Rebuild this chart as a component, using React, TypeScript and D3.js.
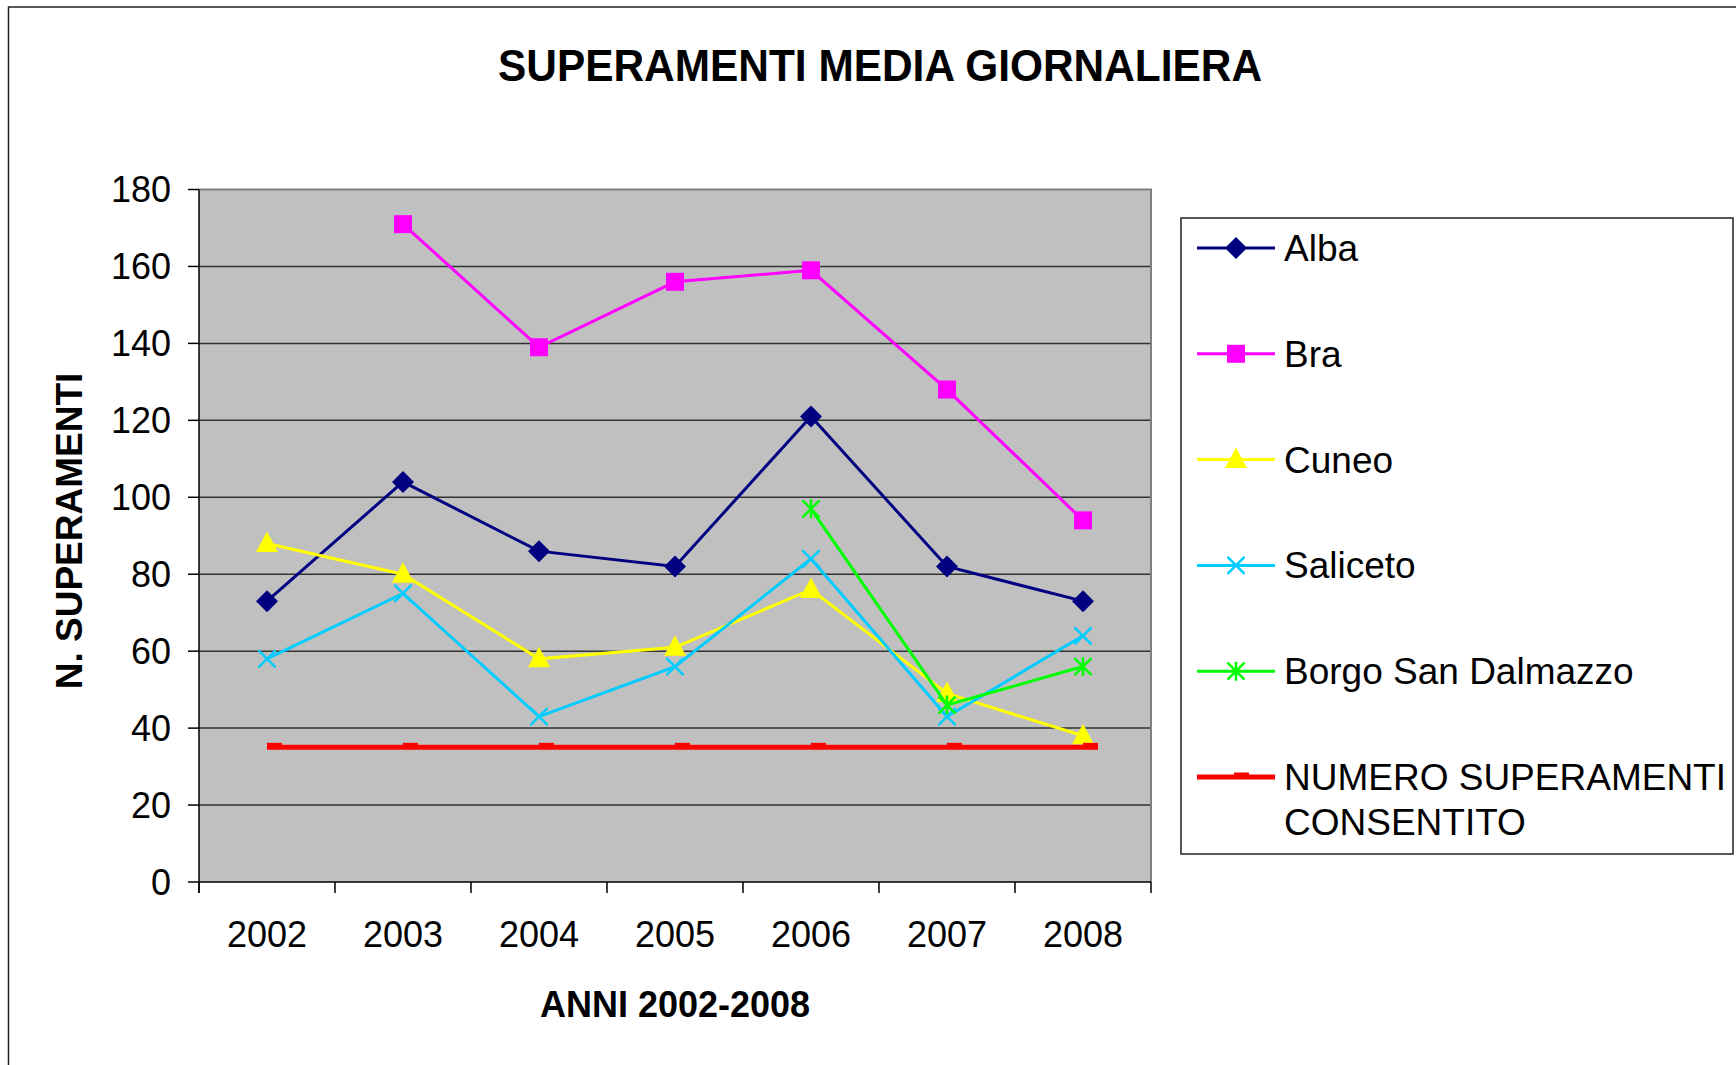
import * as d3 from "d3";

const years = ["2002", "2003", "2004", "2005", "2006", "2007", "2008"];
const alba = [73, 104, 86, 82, 121, 82, 73];
const bra: (number | null)[] = [null, 171, 139, 156, 159, 128, 94];
const cuneo = [88, 80, 58, 61, 76, 49, 38];
const saliceto = [58, 75, 43, 56, 84, 43, 64];
const borgo: (number | null)[] = [null, null, null, null, 97, 46, 56];
const limite = [35, 35, 35, 35, 35, 35, 35];
const yTicks = [0, 20, 40, 60, 80, 100, 120, 140, 160, 180];

type Marker = "diamond" | "square" | "triangle" | "x" | "star" | "dash";

const series: { name: string[]; values: (number | null)[]; color: string; marker: Marker; width: number }[] = [
  { name: ["Alba"], values: alba, color: "#000080", marker: "diamond", width: 3 },
  { name: ["Bra"], values: bra, color: "#FF00FF", marker: "square", width: 3 },
  { name: ["Cuneo"], values: cuneo, color: "#FFFF00", marker: "triangle", width: 3 },
  { name: ["Saliceto"], values: saliceto, color: "#00CCFF", marker: "x", width: 3 },
  { name: ["Borgo San Dalmazzo"], values: borgo, color: "#00FF00", marker: "star", width: 3 },
  { name: ["NUMERO SUPERAMENTI", "CONSENTITO"], values: limite, color: "#FF0000", marker: "dash", width: 5 },
];

const FONT = "'Liberation Sans', Arial, Helvetica, sans-serif";

function MarkerShape({ type, x, y, color }: { type: Marker; x: number; y: number; color: string }) {
  switch (type) {
    case "diamond":
      return <path d={`M${x},${y - 11}L${x + 11},${y}L${x},${y + 11}L${x - 11},${y}Z`} fill={color} />;
    case "square":
      return <rect x={x - 9} y={y - 9} width={18} height={18} fill={color} />;
    case "triangle":
      return <path d={`M${x},${y - 12}L${x + 11},${y + 8.5}L${x - 11},${y + 8.5}Z`} fill={color} />;
    case "x":
      return (
        <path
          d={`M${x - 8.5},${y - 8.5}L${x + 8.5},${y + 8.5}M${x - 8.5},${y + 8.5}L${x + 8.5},${y - 8.5}`}
          stroke={color}
          strokeWidth={2.5}
        />
      );
    case "star":
      return (
        <path
          d={`M${x - 8.5},${y - 8.5}L${x + 8.5},${y + 8.5}M${x - 8.5},${y + 8.5}L${x + 8.5},${y - 8.5}M${x},${y - 9.5}L${x},${y + 9.5}`}
          stroke={color}
          strokeWidth={2.5}
        />
      );
    case "dash":
      return <rect x={x} y={y - 4.5} width={15} height={6} fill={color} />;
  }
}

export default function App() {
  const W = 1736;
  const H = 1065;
  const plot = { left: 199, right: 1151, top: 189.5, bottom: 882 };

  const x = d3.scaleBand<string>().domain(years).range([plot.left, plot.right]).padding(0);
  const y = d3.scaleLinear().domain([0, 180]).range([plot.bottom, plot.top]);
  const cx = (yr: string) => (x(yr) as number) + x.bandwidth() / 2;

  const line = d3
    .line<number | null>()
    .defined((d) => d !== null)
    .x((_, i) => cx(years[i]))
    .y((d) => y(d as number));

  const legend = { x: 1181, y: 218, w: 552, h: 636 };
  const legendRowY = (i: number) => 248 + i * 105.8;

  return (
    <svg width={W} height={H} style={{ position: "absolute", left: 0, top: 0, background: "#fff" }} fontFamily={FONT}>
      {/* outer chart frame */}
      <rect x={8.5} y={7} width={W + 20} height={H + 20} fill="none" stroke="#222" strokeWidth={1.5} />

      {/* title */}
      <text
        x={880}
        y={81}
        textAnchor="middle"
        fontSize={45}
        fontWeight="bold"
        fill="#000"
        textLength={764}
        lengthAdjust="spacingAndGlyphs"
      >
        SUPERAMENTI MEDIA GIORNALIERA
      </text>

      {/* plot area */}
      <rect x={plot.left} y={plot.top} width={plot.right - plot.left} height={plot.bottom - plot.top} fill="#C0C0C0" />

      {/* gridlines */}
      {yTicks
        .filter((t) => t > 0 && t < 180)
        .map((t) => (
          <line key={t} x1={plot.left} x2={plot.right} y1={y(t)} y2={y(t)} stroke="#333" strokeWidth={1.5} />
        ))}

      {/* plot border top/right */}
      <path
        d={`M${plot.left},${plot.top}L${plot.right},${plot.top}L${plot.right},${plot.bottom}`}
        fill="none"
        stroke="#808080"
        strokeWidth={2}
      />

      {/* axes */}
      <line x1={plot.left} x2={plot.left} y1={plot.top} y2={plot.bottom + 11} stroke="#000" strokeWidth={1.5} />
      <line x1={plot.left} x2={plot.right} y1={plot.bottom} y2={plot.bottom} stroke="#000" strokeWidth={1.5} />
      {yTicks.map((t) => (
        <g key={t}>
          <line x1={plot.left - 11} x2={plot.left} y1={y(t)} y2={y(t)} stroke="#000" strokeWidth={1.5} />
          <text x={171} y={y(t)} dy="0.35em" textAnchor="end" fontSize={36} fill="#000">
            {t}
          </text>
        </g>
      ))}
      {[...years.map((yr) => x(yr) as number), plot.right].map((v, i) => (
        <line key={i} x1={v} x2={v} y1={plot.bottom} y2={plot.bottom + 11} stroke="#000" strokeWidth={1.5} />
      ))}
      {years.map((yr) => (
        <text key={yr} x={cx(yr)} y={947} textAnchor="middle" fontSize={36} fill="#000">
          {yr}
        </text>
      ))}

      {/* axis titles */}
      <text x={675} y={1017} textAnchor="middle" fontSize={36} fontWeight="bold" fill="#000">
        ANNI 2002-2008
      </text>
      <text
        transform={`translate(82,${531}) rotate(-90)`}
        textAnchor="middle"
        fontSize={37}
        fontWeight="bold"
        fill="#000"
      >
        N. SUPERAMENTI
      </text>

      {/* series */}
      {series.map((s) => (
        <g key={s.name[0]}>
          <path
            d={
              s.marker === "dash"
                ? `M${cx(years[0])},${y(s.values[0] as number)}L${cx(years[years.length - 1]) + 15},${y(
                    s.values[years.length - 1] as number
                  )}`
                : (line(s.values) as string)
            }
            fill="none"
            stroke={s.color}
            strokeWidth={s.width}
          />
          {s.values.map((v, i) =>
            v === null ? null : <MarkerShape key={i} type={s.marker} x={cx(years[i])} y={y(v)} color={s.color} />
          )}
        </g>
      ))}

      {/* legend */}
      <rect x={legend.x} y={legend.y} width={legend.w} height={legend.h} fill="#fff" stroke="#222" strokeWidth={1.5} />
      {series.map((s, i) => {
        const ly = legendRowY(i);
        return (
          <g key={s.name[0]}>
            <line x1={1197} x2={1275} y1={ly} y2={ly} stroke={s.color} strokeWidth={s.width} />
            <MarkerShape type={s.marker} x={s.marker === "dash" ? 1234 : 1236} y={ly} color={s.color} />
            <text x={1284} y={ly} fontSize={37} fill="#000">
              {s.name.map((n, j) => (
                <tspan key={j} x={1284} dy={j === 0 ? "0.35em" : 45}>
                  {n}
                </tspan>
              ))}
            </text>
          </g>
        );
      })}
    </svg>
  );
}
